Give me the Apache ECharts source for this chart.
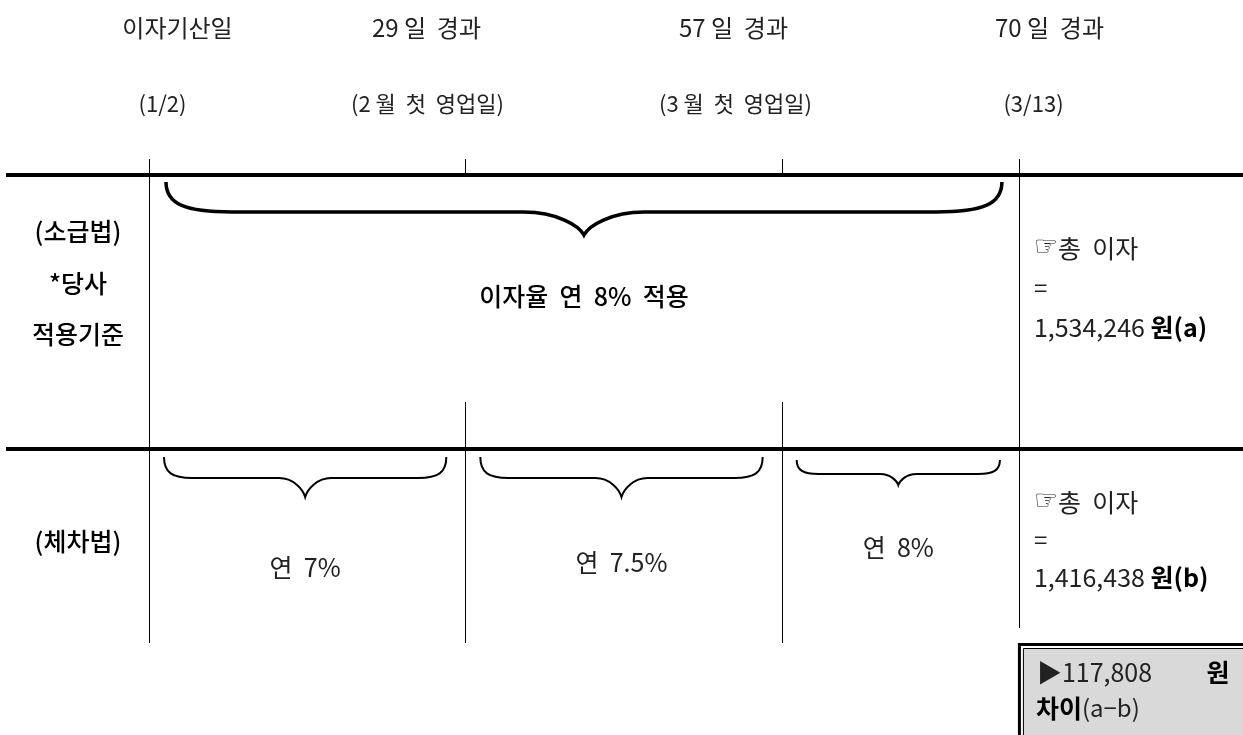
<!DOCTYPE html>
<html><head><meta charset="utf-8">
<script src="https://cdn.jsdelivr.net/npm/echarts@6/dist/echarts.min.js"></script>
<style>html,body{margin:0;padding:0;background:#fff}#c{width:1243px;height:735px}</style>
</head><body><div id="c"></div>
<script>
// ---- data ----
const boundaryDays   = [0, 29, 57, 70];
const boundaryTitles = ['이자기산일', '29 일  경과', '57 일  경과', '70 일  경과'];
const boundaryDates  = ['(1/2)', '(2 월  첫  영업일)', '(3 월  첫  영업일)', '(3/13)'];
const methodLabels   = [['(소급법)', '*당사', '적용기준'], ['(체차법)']];
const retroPeriod    = [0, 70];
const retroRateText  = '이자율  연  8%  적용';
const stepStart      = [0, 29, 57];
const stepEnd        = [29, 57, 70];
const stepRates      = ['연  7%', '연  7.5%', '연  8%'];
const totalAmounts   = ['1,534,246', '1,416,438'];
const totalTags      = ['원(a)', '원(b)'];
const diffAmount     = '117,808';

// ---- layout (schematic, not to scale) ----
const colUnits = [0, 1, 2, 2.75];
const unitOfDay = d => colUnits[boundaryDays.indexOf(d)];
const FONT = "'Noto Sans CJK KR', 'DejaVu Sans', sans-serif";
const headDx = [28, -39, -49, 30];
const dateDx = [13, -38, -47, 14];
const stepBrace = [
  {y0:457, y1:478, y2:497, r:28, t:26, ty:567},
  {y0:457, y1:478, y2:497, r:28, t:26, ty:562},
  {y0:460, y1:474, y2:485, r:22, t:18, ty:547}
];

const px = (api, u) => api.coord([u, 0])[0];
const py = (api, v) => api.coord([0, v])[1];

function txt(x, y, s, size, opt) {
  return {type:'text', style:Object.assign({x:x, y:y, text:s, fontFamily:FONT, fontSize:size,
    fill:'#111', align:'center', verticalAlign:'middle'}, opt || {})};
}
function bracePath(xa, xb, y0, y1, y2, r, t) {
  const xm = (xa + xb) / 2, d = y2 - y1;
  return 'M' + xa + ',' + y0 +
    ' C' + xa + ',' + (y0 + (y1 - y0) * 0.75) + ' ' + (xa + r * 0.3) + ',' + y1 + ' ' + (xa + r) + ',' + y1 +
    ' L' + (xm - t) + ',' + y1 +
    ' C' + (xm - t * 0.45) + ',' + y1 + ' ' + (xm - t * 0.08) + ',' + (y2 - d * 0.4) + ' ' + xm + ',' + y2 +
    ' C' + (xm + t * 0.08) + ',' + (y2 - d * 0.4) + ' ' + (xm + t * 0.45) + ',' + y1 + ' ' + (xm + t) + ',' + y1 +
    ' L' + (xb - r) + ',' + y1 +
    ' C' + (xb - r * 0.3) + ',' + y1 + ' ' + xb + ',' + (y0 + (y1 - y0) * 0.75) + ' ' + xb + ',' + y0;
}

const chart = echarts.init(document.getElementById('c'));
const option = {
  animation: false,
  grid: {left: 149, right: 145, top: 0, bottom: 0},
  xAxis: {type: 'value', min: 0, max: 3, show: false},
  yAxis: {type: 'value', min: 0, max: 735, inverse: true, show: false},
  series: [
    { // thick row rules
      type: 'custom', clip: false, data: [[0]],
      renderItem: (params, api) => ({type:'group', children: [175, 449].map(v => ({
        type:'line', shape:{x1:6, y1:py(api, v), x2:api.getWidth(), y2:py(api, v)},
        style:{stroke:'#000', lineWidth:4}}))})
    },
    { // boundary verticals + headers
      type: 'custom', clip: false,
      data: boundaryDays.map(d => [d]),
      renderItem: (params, api) => {
        const i = params.dataIndex, last = boundaryDays.length - 1;
        const x = Math.round(px(api, unitOfDay(api.value(0)))) + 0.5;
        const segs = (i === 0 || i === last) ? [[159, i === 0 ? 643 : 628]] : [[159, 175], [402, 643]];
        const ch = segs.map(s => ({type:'line', shape:{x1:x, y1:py(api, s[0]), x2:x, y2:py(api, s[1])},
          style:{stroke:'#000', lineWidth:1}}));
        ch.push(txt(x + headDx[i], py(api, 28), boundaryTitles[i], 24, {fill:'#222'}));
        ch.push(txt(x + dateDx[i], py(api, 104), boundaryDates[i], 22, {fill:'#222'}));
        return {type:'group', children: ch};
      }
    },
    { // retroactive brace
      type: 'custom', clip: false, data: [retroPeriod],
      renderItem: (params, api) => {
        const xa = px(api, unitOfDay(api.value(0))) + 17, xb = px(api, unitOfDay(api.value(1))) - 17;
        return {type:'group', children: [
          {type:'path', shape:{pathData: bracePath(xa, xb, py(api, 182), py(api, 212), py(api, 235), 66, 60)},
           style:{stroke:'#000', fill:null, lineWidth:3.5}},
          txt((xa + xb) / 2, py(api, 296), retroRateText, 25, {fontWeight:500, fill:'#000'})
        ]};
      }
    },
    { // step braces
      type: 'custom', clip: false,
      data: stepStart.map((s, i) => [s, stepEnd[i]]),
      renderItem: (params, api) => {
        const i = params.dataIndex, L = stepBrace[i];
        const xa = px(api, unitOfDay(api.value(0))) + 15, xb = px(api, unitOfDay(api.value(1))) - 19;
        return {type:'group', children: [
          {type:'path', shape:{pathData: bracePath(xa, xb, py(api, L.y0), py(api, L.y1), py(api, L.y2), L.r, L.t)},
           style:{stroke:'#000', fill:null, lineWidth:2}},
          txt((xa + xb) / 2, py(api, L.ty), stepRates[i], 25, {fill:'#222'})
        ]};
      }
    },
    { // method labels (left) and totals (right)
      type: 'custom', clip: false,
      data: methodLabels.map((m, i) => [i]),
      renderItem: (params, api) => {
        const i = params.dataIndex;
        const lines = methodLabels[i];
        const labelY = i === 0 ? [231, 283, 334] : [541];
        const totY = i === 0 ? [248, 288, 327] : [502, 540, 577];
        const xr = px(api, colUnits[colUnits.length - 1]) + 15;
        const ch = lines.map((s, k) => txt(78, py(api, labelY[k]), s, 25, {fontWeight:500, fill:'#000'}));
        ch.push({type:'text', style:{x:xr, y:py(api, totY[0]), text:'{h|☞}{n|총  이자}',
          align:'left', verticalAlign:'middle',
          rich:{h:{fontFamily:'DejaVu Sans', fontSize:27, fill:'#222'}, n:{fontFamily:FONT, fontSize:25, fill:'#222'}}}});
        ch.push(txt(xr, py(api, totY[1]), '=', 24, {align:'left', fill:'#222'}));
        ch.push({type:'text', style:{x:xr, y:py(api, totY[2]), text:'{n|' + totalAmounts[i] + ' }{b|' + totalTags[i] + '}',
          align:'left', verticalAlign:'middle',
          rich:{n:{fontFamily:FONT, fontSize:25, fill:'#222'}, b:{fontFamily:FONT, fontSize:25, fontWeight:'bold', fill:'#000'}}}});
        return {type:'group', children: ch};
      }
    },
    { // difference box
      type: 'custom', clip: false, data: [[diffAmount]],
      renderItem: (params, api) => {
        const x0 = px(api, colUnits[colUnits.length - 1]) - 1, y0 = py(api, 643), W = api.getWidth(), H = api.getHeight();
        return {type:'group', children: [
          {type:'rect', shape:{x:x0 + 1.5, y:y0 + 1.5, width:W, height:H}, style:{fill:'#fff', stroke:'#000', lineWidth:3}},
          {type:'rect', shape:{x:x0 + 5.5, y:y0 + 5.5, width:W, height:H}, style:{fill:'#d9d9d9', stroke:'#000', lineWidth:1}},
          {type:'text', style:{x:x0 + 19, y:py(api, 672), text:'{n|▶' + diffAmount + '}', align:'left', verticalAlign:'middle',
            rich:{n:{fontFamily:FONT, fontSize:25, fill:'#222'}}}},
          txt(x0 + 200, py(api, 672), '원', 25, {fontWeight:'bold', fill:'#000'}),
          {type:'text', style:{x:x0 + 18, y:py(api, 708), text:'{b|차이}{n|(a−b)}', align:'left', verticalAlign:'middle',
            rich:{b:{fontFamily:FONT, fontSize:25, fontWeight:'bold', fill:'#000'}, n:{fontFamily:FONT, fontSize:24, fill:'#222'}}}}
        ]};
      }
    }
  ]
};
chart.setOption(option);
</script>
</body></html>
